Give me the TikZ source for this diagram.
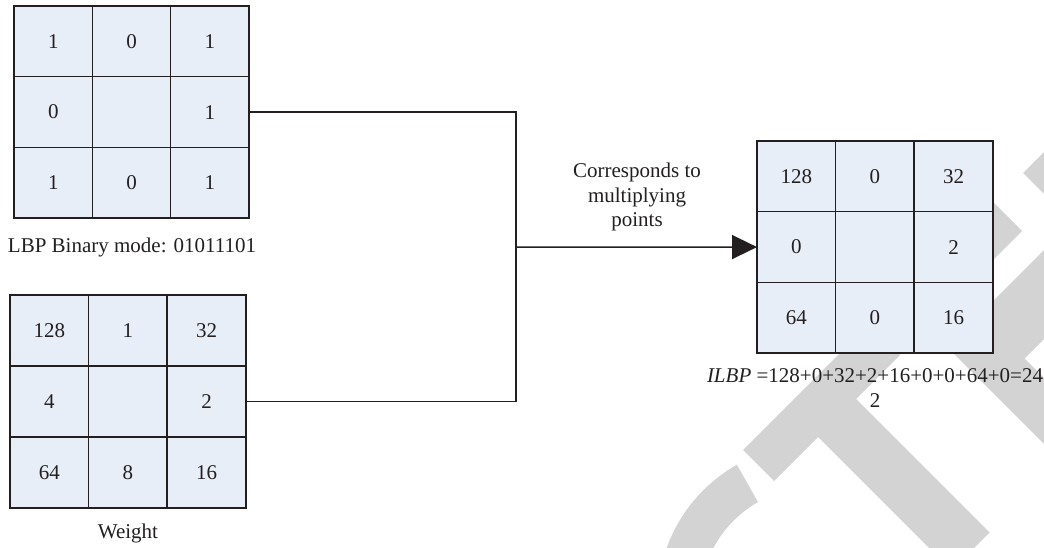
\documentclass[tikz,border=0pt]{standalone}
\usepackage{fontspec}
\setmainfont{Liberation Serif}
\usetikzlibrary{arrows.meta,calc}
\definecolor{cellfill}{RGB}{232,238,247}
\definecolor{linecol}{RGB}{35,31,32}
\definecolor{wmgray}{RGB}{211,211,211}
\begin{document}
\begin{tikzpicture}[x=1pt,y=-1pt,
  cell/.style={draw=linecol,fill=cellfill,line width=1.5pt,minimum width=78.5pt,
    minimum height=70.8pt,inner sep=0pt,outer sep=0pt,anchor=north west,
    text=linecol,font=\fontsize{21}{24}\selectfont},
  wire/.style={draw=linecol,line width=1.5pt},
  lab/.style={font=\fontsize{21}{24.5}\selectfont,align=center,text=linecol,inner sep=0pt},
  wm/.style={fill=wmgray}]
\useasboundingbox (0,0) rectangle (1044,548);
% watermark
\begin{scope}
  \clip (0,0) rectangle (1044,548);
  \fill[wm] (743,450) -- (774,481) -- (900,355) -- (869,324) -- cycle;
  \fill[wm] (815.5,434.5) -- (853.5,396.5) -- (989.5,532.5) -- (951.5,570.5) -- cycle;
  \fill[wm] (814,601) ++(240.5:156.6) arc[start angle=240.5,end angle=150,radius=156.6]
     -- ($(814,601)+(150:113.7)$) arc[start angle=150,end angle=240.5,radius=113.7] -- cycle;
  \fill[wm] (1023,173) -- (1060,136) -- (1060,210) -- cycle;
  \fill[wm] (1022,231) -- (970,179) -- (970,283) -- cycle;
  \fill[wm] (947,347) -- (1080,214) -- (1080,303) -- (1024.5,358.5) -- (1080,414) -- (1080,480) -- cycle;
\end{scope}
% grids
\foreach \v [count=\i from 0] in {1,0,1,0,{},1,1,0,1}{
  \pgfmathtruncatemacro\r{\i/3}
  \pgfmathtruncatemacro\c{\i-3*\r}
  \node[cell] (A\i) at ({14+\c*78.33},{6+\r*70.67}) {\v};
}
\foreach \v [count=\i from 0] in {128,1,32,4,{},2,64,8,16}{
  \pgfmathtruncatemacro\r{\i/3}
  \pgfmathtruncatemacro\c{\i-3*\r}
  \node[cell] (B\i) at ({10+\c*78.67},{295+\r*71}) {\v};
}
\foreach \v [count=\i from 0] in {128,0,32,0,{},2,64,0,16}{
  \pgfmathtruncatemacro\r{\i/3}
  \pgfmathtruncatemacro\c{\i-3*\r}
  \node[cell] (C\i) at ({757+\c*78.67},{141+\r*70.67}) {\v};
}
% connectors
\coordinate (J) at (516,247);
\draw[wire] (A5.east) -| (J) |- (B5.east);
\draw[wire,-{Triangle[length=25pt,width=24pt]}] (J) -- (C3.west);
% labels
\node[lab] (capA) at (132,247) {LBP Binary mode: 01011101};
\node[lab] (capB) at (128,533) {Weight};
\node[lab] (lbl) at (637,197) {Corresponds to\\multiplying\\points};
\node[lab] (capC) at (875,388) {\textit{ILBP} =128+0+32+2+16+0+0+64+0=24\\2};
\end{tikzpicture}
\end{document}
